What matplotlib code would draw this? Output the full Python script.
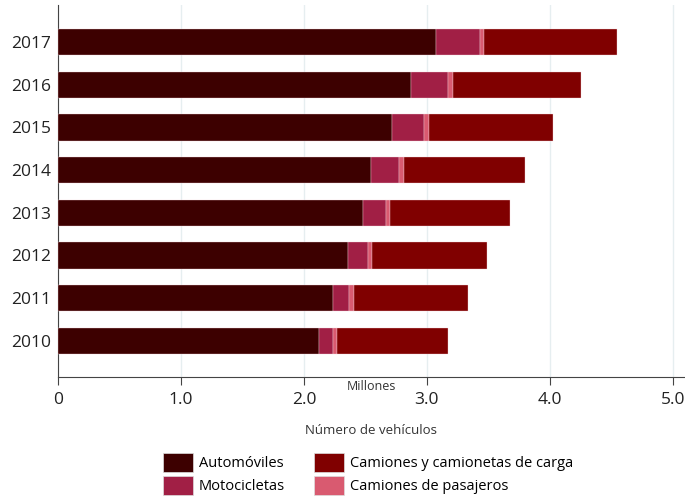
import matplotlib
matplotlib.use("Agg")
import matplotlib.pyplot as plt
from matplotlib.patches import Patch
import numpy as np

years = ["2010", "2011", "2012", "2013", "2014", "2015", "2016", "2017"]
automoviles = [2.122, 2.236, 2.358, 2.480, 2.547, 2.715, 2.870, 3.071]
motocicletas = [0.116, 0.135, 0.162, 0.189, 0.228, 0.263, 0.303, 0.360]
pasajeros = [0.028, 0.033, 0.033, 0.030, 0.036, 0.036, 0.036, 0.035]
carga = [0.910, 0.929, 0.940, 0.976, 0.991, 1.013, 1.048, 1.084]

series_names = ["Automóviles", "Motocicletas", "Camiones de pasajeros", "Camiones y camionetas de carga"]
colors = ["#3d0000", "#a11f45", "#d95a70", "#800000"]

plt.rcParams['font.family'] = ['Open Sans', 'DejaVu Sans']

fig = plt.figure(figsize=(6.85, 4.99), dpi=100)
ax = fig.add_axes([58/685, 1-377/499, 1-58/685, (377-5)/499])

y = np.arange(len(years))
left = np.zeros(len(years))
for vals, c, name in zip([automoviles, motocicletas, pasajeros, carga], colors, series_names):
    ax.barh(y, vals, left=left, height=0.62, color=c, edgecolor="#f4d6dc", linewidth=0.25, label=name, zorder=3)
    left = left + np.array(vals)

ax.set_xlim(0, 5.1)
ax.set_ylim(-0.85, 7.87)
ax.set_yticks(y)
ax.set_yticklabels(years, fontsize=12.5, color="#222222")
ax.tick_params(axis='y', length=0, pad=5)
ax.set_xticks([0, 1, 2, 3, 4, 5])
ax.set_xticklabels(["0", "1.0", "2.0", "3.0", "4.0", "5.0"], fontsize=12.5, color="#222222")
ax.tick_params(axis='x', length=6, width=0.8, color="#444444", pad=5)
ax.grid(axis='x', color="#e6eef0", linewidth=1, zorder=0)
for s in ["top", "right"]:
    ax.spines[s].set_visible(False)
for s in ["left", "bottom"]:
    ax.spines[s].set_color("#444444")
    ax.spines[s].set_linewidth(0.8)

fig.text(371/685, 1-386/499, "Millones", ha="center", va="center", fontsize=9, color="#333333")
fig.text(371/685, 1-431/499, "Número de vehículos", ha="center", va="center", fontsize=9.5, color="#333333")

handles = [Patch(facecolor=colors[0], edgecolor="#dddddd", linewidth=0.5),
           Patch(facecolor=colors[1], edgecolor="#dddddd", linewidth=0.5),
           Patch(facecolor=colors[3], edgecolor="#dddddd", linewidth=0.5),
           Patch(facecolor=colors[2], edgecolor="#dddddd", linewidth=0.5)]
labels = ["Automóviles", "Motocicletas", "Camiones y camionetas de carga", "Camiones de pasajeros"]
fig.legend(handles, labels, ncol=2, loc="center", bbox_to_anchor=(0.537, 1-474/499),
           frameon=False, fontsize=10.5, handlelength=2.1, handleheight=1.6,
           handletextpad=0.35, columnspacing=2.0, labelspacing=0.3, borderpad=0)

fig.savefig("out.png", dpi=100)
